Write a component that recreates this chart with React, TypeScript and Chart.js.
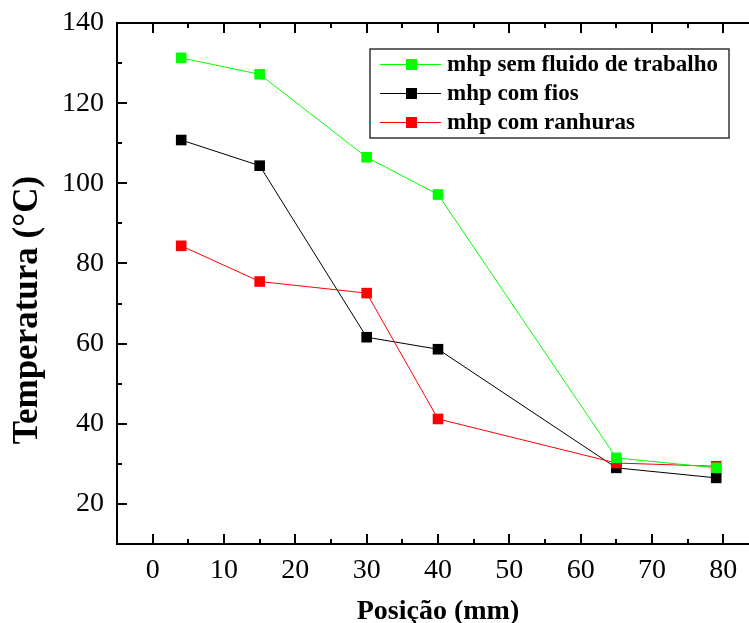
import React, { useEffect, useRef } from "react";
import { Chart, registerables } from "chart.js";

Chart.register(...registerables);

const positions = [4, 15, 30, 40, 65, 79];
const seriesNames = ["mhp sem fluido de trabalho", "mhp com fios", "mhp com ranhuras"];
const semFluido = [131.3, 127.2, 106.5, 97.2, 31.5, 29.0];
const comFios = [110.8, 104.4, 61.6, 58.6, 29.0, 26.5];
const comRanhuras = [84.4, 75.5, 72.6, 41.2, 30.2, 29.4];
const seriesColors = ["#00ff00", "#000000", "#ff0000"];
const xTicks = [0, 10, 20, 30, 40, 50, 60, 70, 80];
const yTicks = [20, 40, 60, 80, 100, 120, 140];
const xMinor = [-5, 5, 15, 25, 35, 45, 55, 65, 75, 85];
const yMinor = [10, 30, 50, 70, 90, 110, 130];
const xTitle = "Posição (mm)";
const yTitle = "Temperatura (°C)";

const SERIF = "'Liberation Serif', 'Times New Roman', serif";

const framePlugin = {
  id: "frame",
  afterDatasetsDraw(chart: any) {
    const { ctx, chartArea } = chart;
    const { left, right, top, bottom } = chartArea;
    const xs = chart.scales.x;
    const ys = chart.scales.y;
    ctx.save();
    ctx.strokeStyle = "#000";
    ctx.lineWidth = 2;
    ctx.beginPath();
    ctx.rect(left, top, right - left, bottom - top);
    ctx.stroke();
    const major = 10;
    const minor = 5;
    ctx.beginPath();
    xTicks.forEach((v) => {
      const px = Math.round(xs.getPixelForValue(v));
      ctx.moveTo(px, bottom);
      ctx.lineTo(px, bottom - major);
      ctx.moveTo(px, top);
      ctx.lineTo(px, top + major);
    });
    xMinor.forEach((v) => {
      const px = Math.round(xs.getPixelForValue(v));
      ctx.moveTo(px, bottom);
      ctx.lineTo(px, bottom - minor);
      ctx.moveTo(px, top);
      ctx.lineTo(px, top + minor);
    });
    yTicks.forEach((v) => {
      const py = Math.round(ys.getPixelForValue(v));
      ctx.moveTo(left, py);
      ctx.lineTo(left + major, py);
      ctx.moveTo(right, py);
      ctx.lineTo(right - major, py);
    });
    yMinor.forEach((v) => {
      const py = Math.round(ys.getPixelForValue(v));
      ctx.moveTo(left, py);
      ctx.lineTo(left + minor, py);
      ctx.moveTo(right, py);
      ctx.lineTo(right - minor, py);
    });
    ctx.stroke();

    // legend
    const bx = 370, by = 49, bw = 359, bh = 89;
    ctx.lineWidth = 1.5;
    ctx.strokeStyle = "#333";
    ctx.strokeRect(bx, by, bw, bh);
    ctx.font = `bold 23px ${SERIF}`;
    ctx.textBaseline = "middle";
    ctx.textAlign = "left";
    seriesNames.forEach((name, i) => {
      const cy = 64 + i * 29;
      ctx.strokeStyle = seriesColors[i];
      ctx.lineWidth = 1;
      ctx.beginPath();
      ctx.moveTo(380, cy + 0.5);
      ctx.lineTo(441, cy + 0.5);
      ctx.stroke();
      ctx.fillStyle = seriesColors[i];
      ctx.fillRect(406, cy - 5, 11, 11);
      ctx.fillStyle = "#000";
      ctx.fillText(name, 447, cy + 1);
    });

    // axis titles
    ctx.fillStyle = "#000";
    ctx.font = `bold 28px ${SERIF}`;
    ctx.textAlign = "center";
    ctx.textBaseline = "alphabetic";
    ctx.fillText(xTitle, (left + 759) / 2, 619);
    ctx.save();
    ctx.translate(37, 310);
    ctx.rotate(-Math.PI / 2);
    ctx.font = `bold 35px ${SERIF}`;
    ctx.fillText(yTitle, 0, 0);
    ctx.restore();
    ctx.restore();
  },
};

export default function App() {
  const ref = useRef<HTMLCanvasElement>(null);
  useEffect(() => {
    if (!ref.current) return;
    const data = [semFluido, comFios, comRanhuras];
    const orders = [0, 2, 1];
    const zeroPad = (s: any) => {
      s.paddingLeft = 0;
      s.paddingRight = 0;
      s.paddingTop = 0;
      s.paddingBottom = 0;
    };
    const chart = new Chart(ref.current, {
      type: "line",
      data: {
        datasets: data.map((vals, i) => ({
          label: seriesNames[i],
          data: positions.map((x, j) => ({ x, y: vals[j] })),
          borderColor: seriesColors[i],
          backgroundColor: seriesColors[i],
          borderWidth: 1,
          pointStyle: "rect",
          pointRadius: 7.5,
          pointBorderWidth: 0,
          pointBackgroundColor: seriesColors[i],
          tension: 0,
          order: orders[i],
        })),
      },
      options: {
        responsive: false,
        animation: false,
        devicePixelRatio: 1,
        layout: { autoPadding: false, padding: { left: 0, top: 23, right: 2, bottom: 0 } },
        plugins: { legend: { display: false }, tooltip: { enabled: false }, title: { display: false } },
        scales: {
          x: {
            type: "linear",
            min: -5,
            max: 85,
            grid: { display: false, drawTicks: false },
            border: { display: false },
            ticks: { font: { family: SERIF, size: 28 }, color: "#000", padding: 10, maxRotation: 0 },
            afterBuildTicks: (s: any) => {
              s.ticks = xTicks.map((v) => ({ value: v }));
            },
            afterFit: (s: any) => {
              s.height = 79;
              zeroPad(s);
            },
          },
          y: {
            type: "linear",
            min: 10,
            max: 140,
            grid: { display: false, drawTicks: false },
            border: { display: false },
            ticks: { font: { family: SERIF, size: 28 }, color: "#000", padding: 13 },
            afterBuildTicks: (s: any) => {
              s.ticks = yTicks.map((v) => ({ value: v }));
            },
            afterFit: (s: any) => {
              s.width = 117;
              zeroPad(s);
            },
          },
        },
      } as any,
      plugins: [framePlugin],
    });
    return () => chart.destroy();
  }, []);
  return (
    <div style={{ position: "fixed", left: 0, top: 0, width: 749, height: 623, overflow: "hidden", background: "#fff" }}>
      <div style={{ width: 761, height: 623 }}>
        <canvas ref={ref} width={761} height={623} style={{ width: 761, height: 623, display: "block" }} />
      </div>
    </div>
  );
}
